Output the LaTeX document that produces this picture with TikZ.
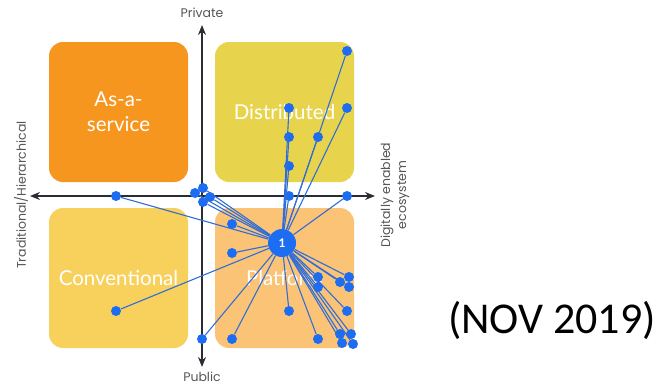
\documentclass[tikz,border=0pt]{standalone}
\usepackage{fontspec}
\setmainfont{Lato}
\newfontfamily\axisfont{Poppins}
\newfontfamily\notefont{Carlito}
\usetikzlibrary{positioning}
\usetikzlibrary{arrows.meta}

\definecolor{servorange}{HTML}{F7961E}
\definecolor{distyellow}{HTML}{E8D44C}
\definecolor{convyellow}{HTML}{F8D15C}
\definecolor{platorange}{HTML}{FBC376}
\definecolor{dotblue}{HTML}{1C6DF2}
\definecolor{lineblue}{HTML}{2F6DD8}
\definecolor{axisgrey}{HTML}{2A2D33}
\definecolor{labelgrey}{HTML}{555555}

\tikzset{
	quadrant/.style={rounded corners=14pt, minimum width=139pt,
		minimum height=140pt, text=white, align=center,
		font=\fontsize{20.5}{25}\selectfont, inner sep=0pt},
	axis/.style={axisgrey, line width=1.4pt, {Stealth[length=10pt,width=8pt]}-{Stealth[length=10pt,width=8pt]}},
	axislabel/.style={text=labelgrey, font=\axisfont\fontsize{12.5}{16}\selectfont,
		align=center, inner sep=1pt},
	dot/.style={circle, fill=dotblue, minimum size=10pt, inner sep=0pt},
	link/.style={lineblue, line width=1.1pt}
}

\begin{document}
\begin{tikzpicture}[x=1pt,y=-1pt]
	\useasboundingbox (0,0) rectangle (669,386);

	% Quadrants
	\node [quadrant, fill=servorange] (serv) at (118.5,112) {As-a-\\service};
	\node [quadrant, fill=distyellow] (dist) at (284.5,112) {Distributed};
	\node [quadrant, fill=convyellow] (conv) at (118.5,278) {Conventional};
	\node [quadrant, fill=platorange] (plat) at (284.5,278) {Platform};

	% Axes
	\coordinate (west) at (30,196);
	\coordinate (east) at (375,196);
	\coordinate (north) at (202,25);
	\coordinate (south) at (202,367);
	\draw [axis] (west) -- (east);
	\draw [axis] (south) -- (north);

	% Axis labels
	\node [axislabel] (priv) at (202,13) {Private};
	\node [axislabel] (publ) at (202,376.5) {Public};
	\node [axislabel, rotate=90] (trad) at (21,195) {Traditional/Hierarchical};
	\node [axislabel, rotate=90] (digi) at (395,195) {Digitally enabled\\ecosystem};

	% Ecosystem points
	\foreach \n/\p in {1/{347,51}, 2/{347,108}, 3/{289,108}, 4/{318,137},
		5/{289,137}, 6/{289,166}, 7/{289,196}, 8/{347,196}, 9/{116,196},
		10/{195,193}, 11/{203,188}, 12/{203,202}, 13/{210,197}, 14/{232,224},
		15/{232,253}, 16/{116,311}, 17/{202,339}, 18/{232,339}, 19/{289,311},
		20/{318,339}, 21/{318,277}, 22/{318,287}, 23/{340,282}, 24/{349,277},
		25/{349,287}, 26/{347,311}, 27/{340,334}, 28/{351,334}, 29/{342,343},
		30/{353,344}}
		\node [dot] (d\n) at (\p) {};

	% Hub
	\node [circle, fill=dotblue, minimum size=28pt, inner sep=0pt,
		text=white, font=\bfseries\fontsize{12}{12}\selectfont] (hub) at (282,243) {1};

	% Links
	\foreach \n in {1,...,30}
		\draw [link] (hub) -- (d\n);

	% Date
	\node [font=\notefont\fontsize{44}{44}\selectfont] (date) at (552,320) {(NOV 2019)};
\end{tikzpicture}
\end{document}
